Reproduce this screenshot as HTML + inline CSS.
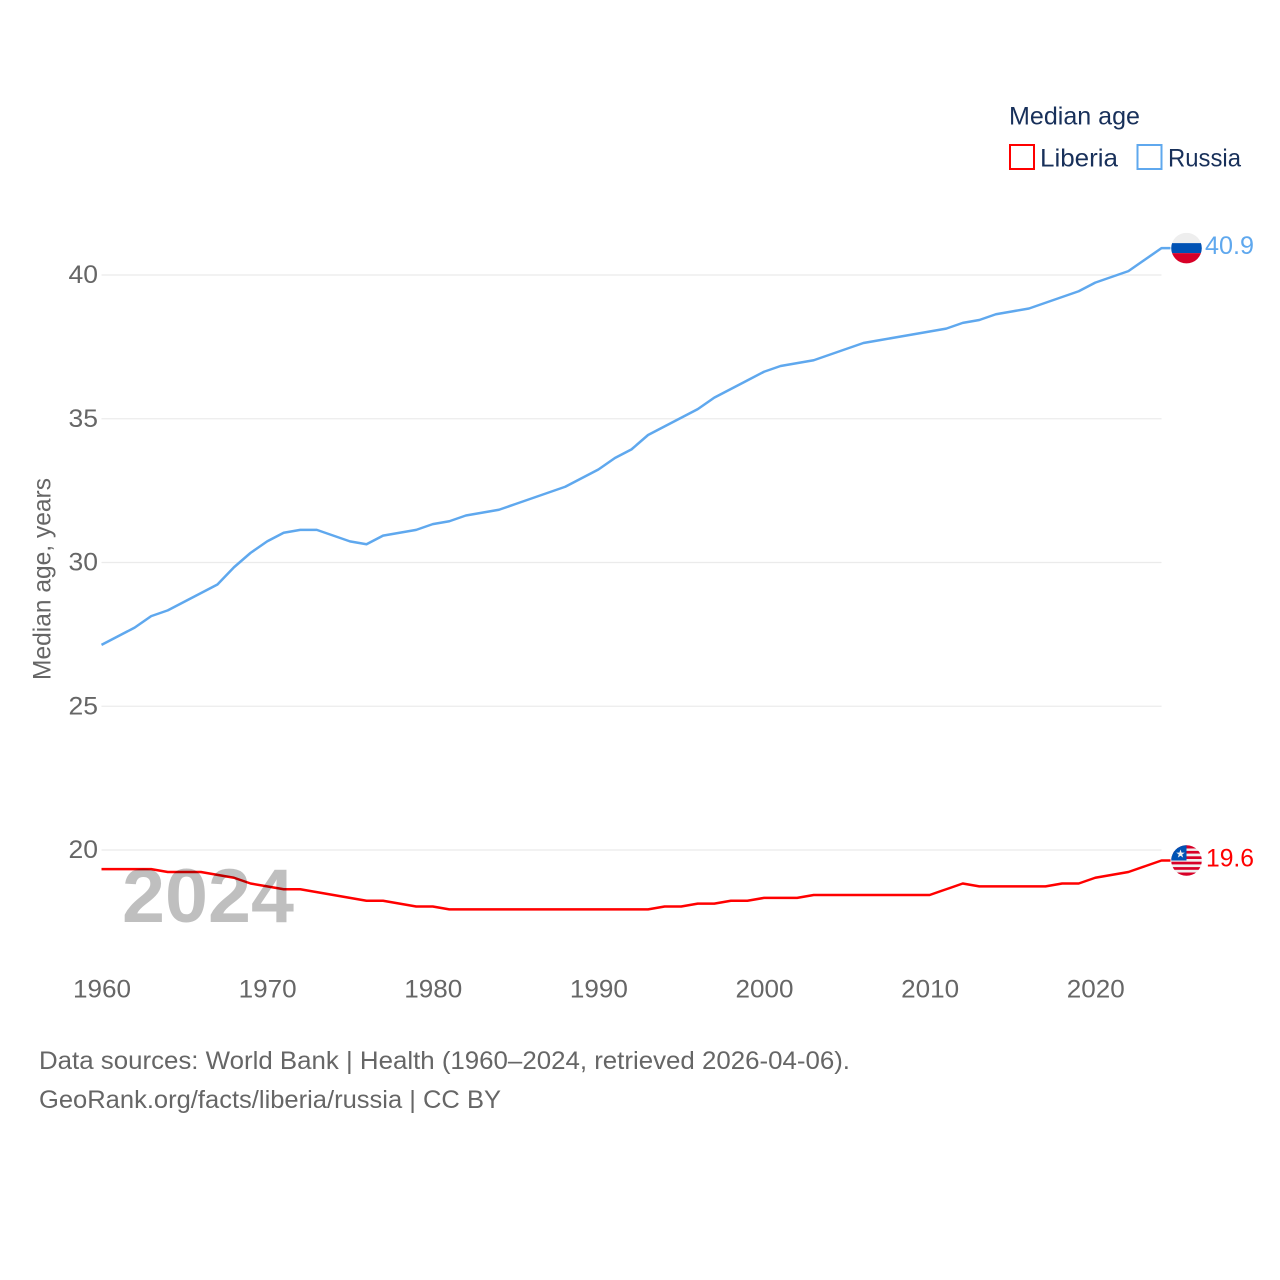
<!DOCTYPE html>
<html lang="en">
<head>
<meta charset="utf-8">
<title>Median age: Liberia and Russia</title>
<style>
html,body{margin:0;padding:0;background:#fff}
svg{display:block}
text{font-family:"Liberation Sans",sans-serif}
</style>
</head>
<body>
<svg id="chart" xmlns="http://www.w3.org/2000/svg" width="1280" height="1280" viewBox="0 0 1280 1280">
  <defs>
    <clipPath id="flag-clip"><circle cx="0" cy="0" r="15.3"/></clipPath>
  </defs>
  <rect width="1280" height="1280" fill="#fff"/>
  <g id="grid"></g>
  <g id="y-ticks"></g>
  <g id="x-ticks"></g>
  <text transform="translate(50.5,579) rotate(-90)" text-anchor="middle" font-size="25" fill="#666" textLength="202" lengthAdjust="spacingAndGlyphs">Median age, years</text>
  <g id="series"></g>
  <text x="122" y="922" font-size="76" font-weight="700" fill="#000" fill-opacity="0.25" textLength="172" lengthAdjust="spacingAndGlyphs">2024</text>

  <g id="flag-russia" clip-path="url(#flag-clip)">
    <rect x="-16" y="-16" width="32" height="11" fill="#eeeeee"/>
    <rect x="-16" y="-5" width="32" height="10" fill="#0052b4"/>
    <rect x="-16" y="5" width="32" height="11" fill="#d80027"/>
  </g>
  <g id="flag-liberia" clip-path="url(#flag-clip)">
    <rect x="-16" y="-16" width="32" height="32" fill="#f0f0f0"/>
    <rect x="-16" y="-16" width="32" height="4" fill="#d80027"/>
    <rect x="-16" y="-9.6" width="32" height="2.7" fill="#d80027"/>
    <rect x="-16" y="-4.2" width="32" height="2.7" fill="#d80027"/>
    <rect x="-16" y="1.2" width="32" height="2.7" fill="#d80027"/>
    <rect x="-16" y="6.6" width="32" height="2.7" fill="#d80027"/>
    <rect x="-16" y="12" width="32" height="4" fill="#d80027"/>
    <rect x="-16" y="-16" width="16" height="16" fill="#0052b4"/>
    <polygon points="-6,-11 -4.9,-7.9 -1.7,-7.9 -4.3,-6 -3.3,-2.9 -6,-4.8 -8.7,-2.9 -7.7,-6 -10.3,-7.9 -7.1,-7.9" fill="#f0f0f0"/>
  </g>
  <text id="label-russia" x="1205" y="254" font-size="25" fill="#5fa8ee" textLength="49" lengthAdjust="spacingAndGlyphs"></text>
  <text id="label-liberia" x="1206" y="866" font-size="25" fill="#ff0000" textLength="48" lengthAdjust="spacingAndGlyphs"></text>

  <g>
    <text x="1009" y="124.5" font-size="25" fill="#18305a" textLength="131" lengthAdjust="spacingAndGlyphs">Median age</text>
    <g>
      <rect x="1010" y="145" width="24" height="24" fill="#fff" stroke="#ff0000" stroke-width="2"/>
      <text x="1040" y="166.5" font-size="25" fill="#18305a" textLength="78" lengthAdjust="spacingAndGlyphs">Liberia</text>
    </g>
    <g>
      <rect x="1137.5" y="145" width="24" height="24" fill="#fff" stroke="#5fa8ee" stroke-width="2"/>
      <text x="1168" y="166.5" font-size="25" fill="#18305a" textLength="73" lengthAdjust="spacingAndGlyphs">Russia</text>
    </g>
  </g>

  <g>
    <text x="39" y="1069" font-size="25" fill="#666" textLength="811" lengthAdjust="spacingAndGlyphs">Data sources: World Bank | Health (1960–2024, retrieved 2026-04-06).</text>
    <text x="39" y="1108" font-size="25" fill="#666" textLength="462" lengthAdjust="spacingAndGlyphs">GeoRank.org/facts/liberia/russia | CC BY</text>
  </g>
</svg>
<script>
const years = [1960,1961,1962,1963,1964,1965,1966,1967,1968,1969,1970,1971,1972,1973,1974,1975,1976,1977,1978,1979,1980,1981,1982,1983,1984,1985,1986,1987,1988,1989,1990,1991,1992,1993,1994,1995,1996,1997,1998,1999,2000,2001,2002,2003,2004,2005,2006,2007,2008,2009,2010,2011,2012,2013,2014,2015,2016,2017,2018,2019,2020,2021,2022,2023,2024];
const russiaValues = [27.1,27.4,27.7,28.1,28.3,28.6,28.9,29.2,29.8,30.3,30.7,31.0,31.1,31.1,30.9,30.7,30.6,30.9,31.0,31.1,31.3,31.4,31.6,31.7,31.8,32.0,32.2,32.4,32.6,32.9,33.2,33.6,33.9,34.4,34.7,35.0,35.3,35.7,36.0,36.3,36.6,36.8,36.9,37.0,37.2,37.4,37.6,37.7,37.8,37.9,38.0,38.1,38.3,38.4,38.6,38.7,38.8,39.0,39.2,39.4,39.7,39.9,40.1,40.5,40.9];
const liberiaValues = [19.3,19.3,19.3,19.3,19.2,19.2,19.2,19.1,19.0,18.8,18.7,18.6,18.6,18.5,18.4,18.3,18.2,18.2,18.1,18.0,18.0,17.9,17.9,17.9,17.9,17.9,17.9,17.9,17.9,17.9,17.9,17.9,17.9,17.9,18.0,18.0,18.1,18.1,18.2,18.2,18.3,18.3,18.3,18.4,18.4,18.4,18.4,18.4,18.4,18.4,18.4,18.6,18.8,18.7,18.7,18.7,18.7,18.7,18.8,18.8,19.0,19.1,19.2,19.4,19.6];
const yTicks = [20,25,30,35,40];
const xTicks = [1960,1970,1980,1990,2000,2010,2020];

const NS = 'http://www.w3.org/2000/svg';
function xScale(year) { return 101.5 + (year - 1960) * (1060 / 64); }
function yScale(value) { return 850 - (value - 20) * 28.75; }
function seriesY(value) { return yScale(value) - 1; }

const gridGroup = document.getElementById('grid');
const yTickGroup = document.getElementById('y-ticks');
const xTickGroup = document.getElementById('x-ticks');
const seriesGroup = document.getElementById('series');

yTicks.forEach(function (tick) {
  const line = document.createElementNS(NS, 'line');
  
  
  line.setAttribute('x1', xScale(1960));
  line.setAttribute('x2', xScale(2024));
  line.setAttribute('y1', yScale(tick));
  line.setAttribute('y2', yScale(tick));
  line.setAttribute('stroke', '#ebebeb');
  line.setAttribute('stroke-width', '1.3');
  gridGroup.appendChild(line);

  const label = document.createElementNS(NS, 'text');
  
  
  label.setAttribute('x', 98);
  label.setAttribute('y', yScale(tick) + 8);
  label.setAttribute('text-anchor', 'end');
  label.setAttribute('font-size', '25');
  label.setAttribute('fill', '#666');
  label.setAttribute('textLength', '29.5');
  label.setAttribute('lengthAdjust', 'spacingAndGlyphs');
  label.textContent = tick;
  yTickGroup.appendChild(label);
});

xTicks.forEach(function (tick) {
  const label = document.createElementNS(NS, 'text');
  
  
  label.setAttribute('x', xScale(tick) + 0.5);
  label.setAttribute('y', 997.5);
  label.setAttribute('text-anchor', 'middle');
  label.setAttribute('font-size', '25');
  label.setAttribute('fill', '#666');
  label.setAttribute('textLength', '58');
  label.setAttribute('lengthAdjust', 'spacingAndGlyphs');
  label.textContent = tick;
  xTickGroup.appendChild(label);
});

function pathFor(values) {
  let d = values.map(function (v, i) {
    return (i ? 'L' : 'M') + xScale(years[i]).toFixed(2) + ' ' + seriesY(v).toFixed(2);
  }).join(' ');
  const last = values[values.length - 1];
  d += ' L' + (xScale(years[years.length - 1]) + 9).toFixed(2) + ' ' + seriesY(last).toFixed(2);
  return d;
}

const liberiaLine = document.createElementNS(NS, 'path');


liberiaLine.setAttribute('d', pathFor(liberiaValues));
liberiaLine.setAttribute('fill', 'none');
liberiaLine.setAttribute('stroke', '#ff0000');
liberiaLine.setAttribute('stroke-width', '2.5');
liberiaLine.setAttribute('stroke-linejoin', 'round');
seriesGroup.appendChild(liberiaLine);

const russiaLine = document.createElementNS(NS, 'path');


russiaLine.setAttribute('d', pathFor(russiaValues));
russiaLine.setAttribute('fill', 'none');
russiaLine.setAttribute('stroke', '#5fa8ee');
russiaLine.setAttribute('stroke-width', '2.5');
russiaLine.setAttribute('stroke-linejoin', 'round');
seriesGroup.appendChild(russiaLine);

const lastRussia = russiaValues[russiaValues.length - 1];
const lastLiberia = liberiaValues[liberiaValues.length - 1];
document.getElementById('flag-russia').setAttribute('transform', 'translate(1186.5,' + seriesY(lastRussia) + ')');
document.getElementById('flag-liberia').setAttribute('transform', 'translate(1186.5,' + seriesY(lastLiberia) + ')');
const russiaLabel = document.getElementById('label-russia');
russiaLabel.setAttribute('y', yScale(lastRussia) + 5);
russiaLabel.textContent = lastRussia.toFixed(1);
const liberiaLabel = document.getElementById('label-liberia');
liberiaLabel.setAttribute('y', yScale(lastLiberia) + 5);
liberiaLabel.textContent = lastLiberia.toFixed(1);
</script>
</body>
</html>
